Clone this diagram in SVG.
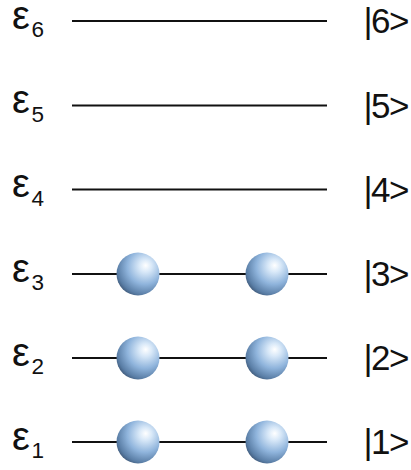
<svg xmlns="http://www.w3.org/2000/svg" width="411" height="470" viewBox="0 0 411 470">
<style>
.lvl{stroke:#111;stroke-width:2}
.eps{font-family:"Liberation Sans",Arial,sans-serif;font-size:40px;fill:#111}
.sub{font-family:"Liberation Sans",Arial,sans-serif;font-size:22.5px;fill:#111}
.ket{font-family:"Liberation Sans",Arial,sans-serif;font-size:35px;fill:#111;letter-spacing:-1.5px}
</style>
<defs>
<radialGradient id="ball" cx="0.65" cy="0.35" r="0.75" fx="0.68" fy="0.3">
<stop offset="0" stop-color="#ffffff"/>
<stop offset="0.2" stop-color="#d8e8f8"/>
<stop offset="0.55" stop-color="#8fb4dc"/>
<stop offset="0.85" stop-color="#5a7ea6"/>
<stop offset="1" stop-color="#3a5270"/>
</radialGradient>
</defs>
<g id="connectors">
<line class="lvl" x1="72" y1="21" x2="327" y2="21"/>
<line class="lvl" x1="72" y1="105.5" x2="327" y2="105.5"/>
<line class="lvl" x1="72" y1="189.5" x2="327" y2="189.5"/>
<line class="lvl" x1="72" y1="274" x2="327" y2="274"/>
<line class="lvl" x1="72" y1="358" x2="327" y2="358"/>
<line class="lvl" x1="72" y1="442" x2="327" y2="442"/>
</g>
<g id="level6"><text class="eps" x="12" y="28.5">ε</text><text class="sub" x="31.5" y="37">6</text><text class="ket" x="363.5" y="33">|6&gt;</text></g>
<g id="level5"><text class="eps" x="12" y="113">ε</text><text class="sub" x="31.5" y="121.5">5</text><text class="ket" x="363.5" y="117.5">|5&gt;</text></g>
<g id="level4"><text class="eps" x="12" y="197">ε</text><text class="sub" x="31.5" y="205.5">4</text><text class="ket" x="363.5" y="201.5">|4&gt;</text></g>
<g id="level3"><text class="eps" x="12" y="281.5">ε</text><text class="sub" x="31.5" y="290">3</text><text class="ket" x="363.5" y="286">|3&gt;</text></g>
<g id="level2"><text class="eps" x="12" y="365.5">ε</text><text class="sub" x="31.5" y="374">2</text><text class="ket" x="363.5" y="370">|2&gt;</text></g>
<g id="level1"><text class="eps" x="12" y="449.5">ε</text><text class="sub" x="31.5" y="458">1</text><text class="ket" x="363.5" y="454">|1&gt;</text></g>
<g id="particles">
<circle cx="138" cy="274" r="21.5" fill="url(#ball)"/>
<circle cx="267" cy="274" r="21.5" fill="url(#ball)"/>
<circle cx="138" cy="358" r="21.5" fill="url(#ball)"/>
<circle cx="267" cy="358" r="21.5" fill="url(#ball)"/>
<circle cx="138" cy="442" r="21.5" fill="url(#ball)"/>
<circle cx="267" cy="442" r="21.5" fill="url(#ball)"/>
</g>
</svg>
